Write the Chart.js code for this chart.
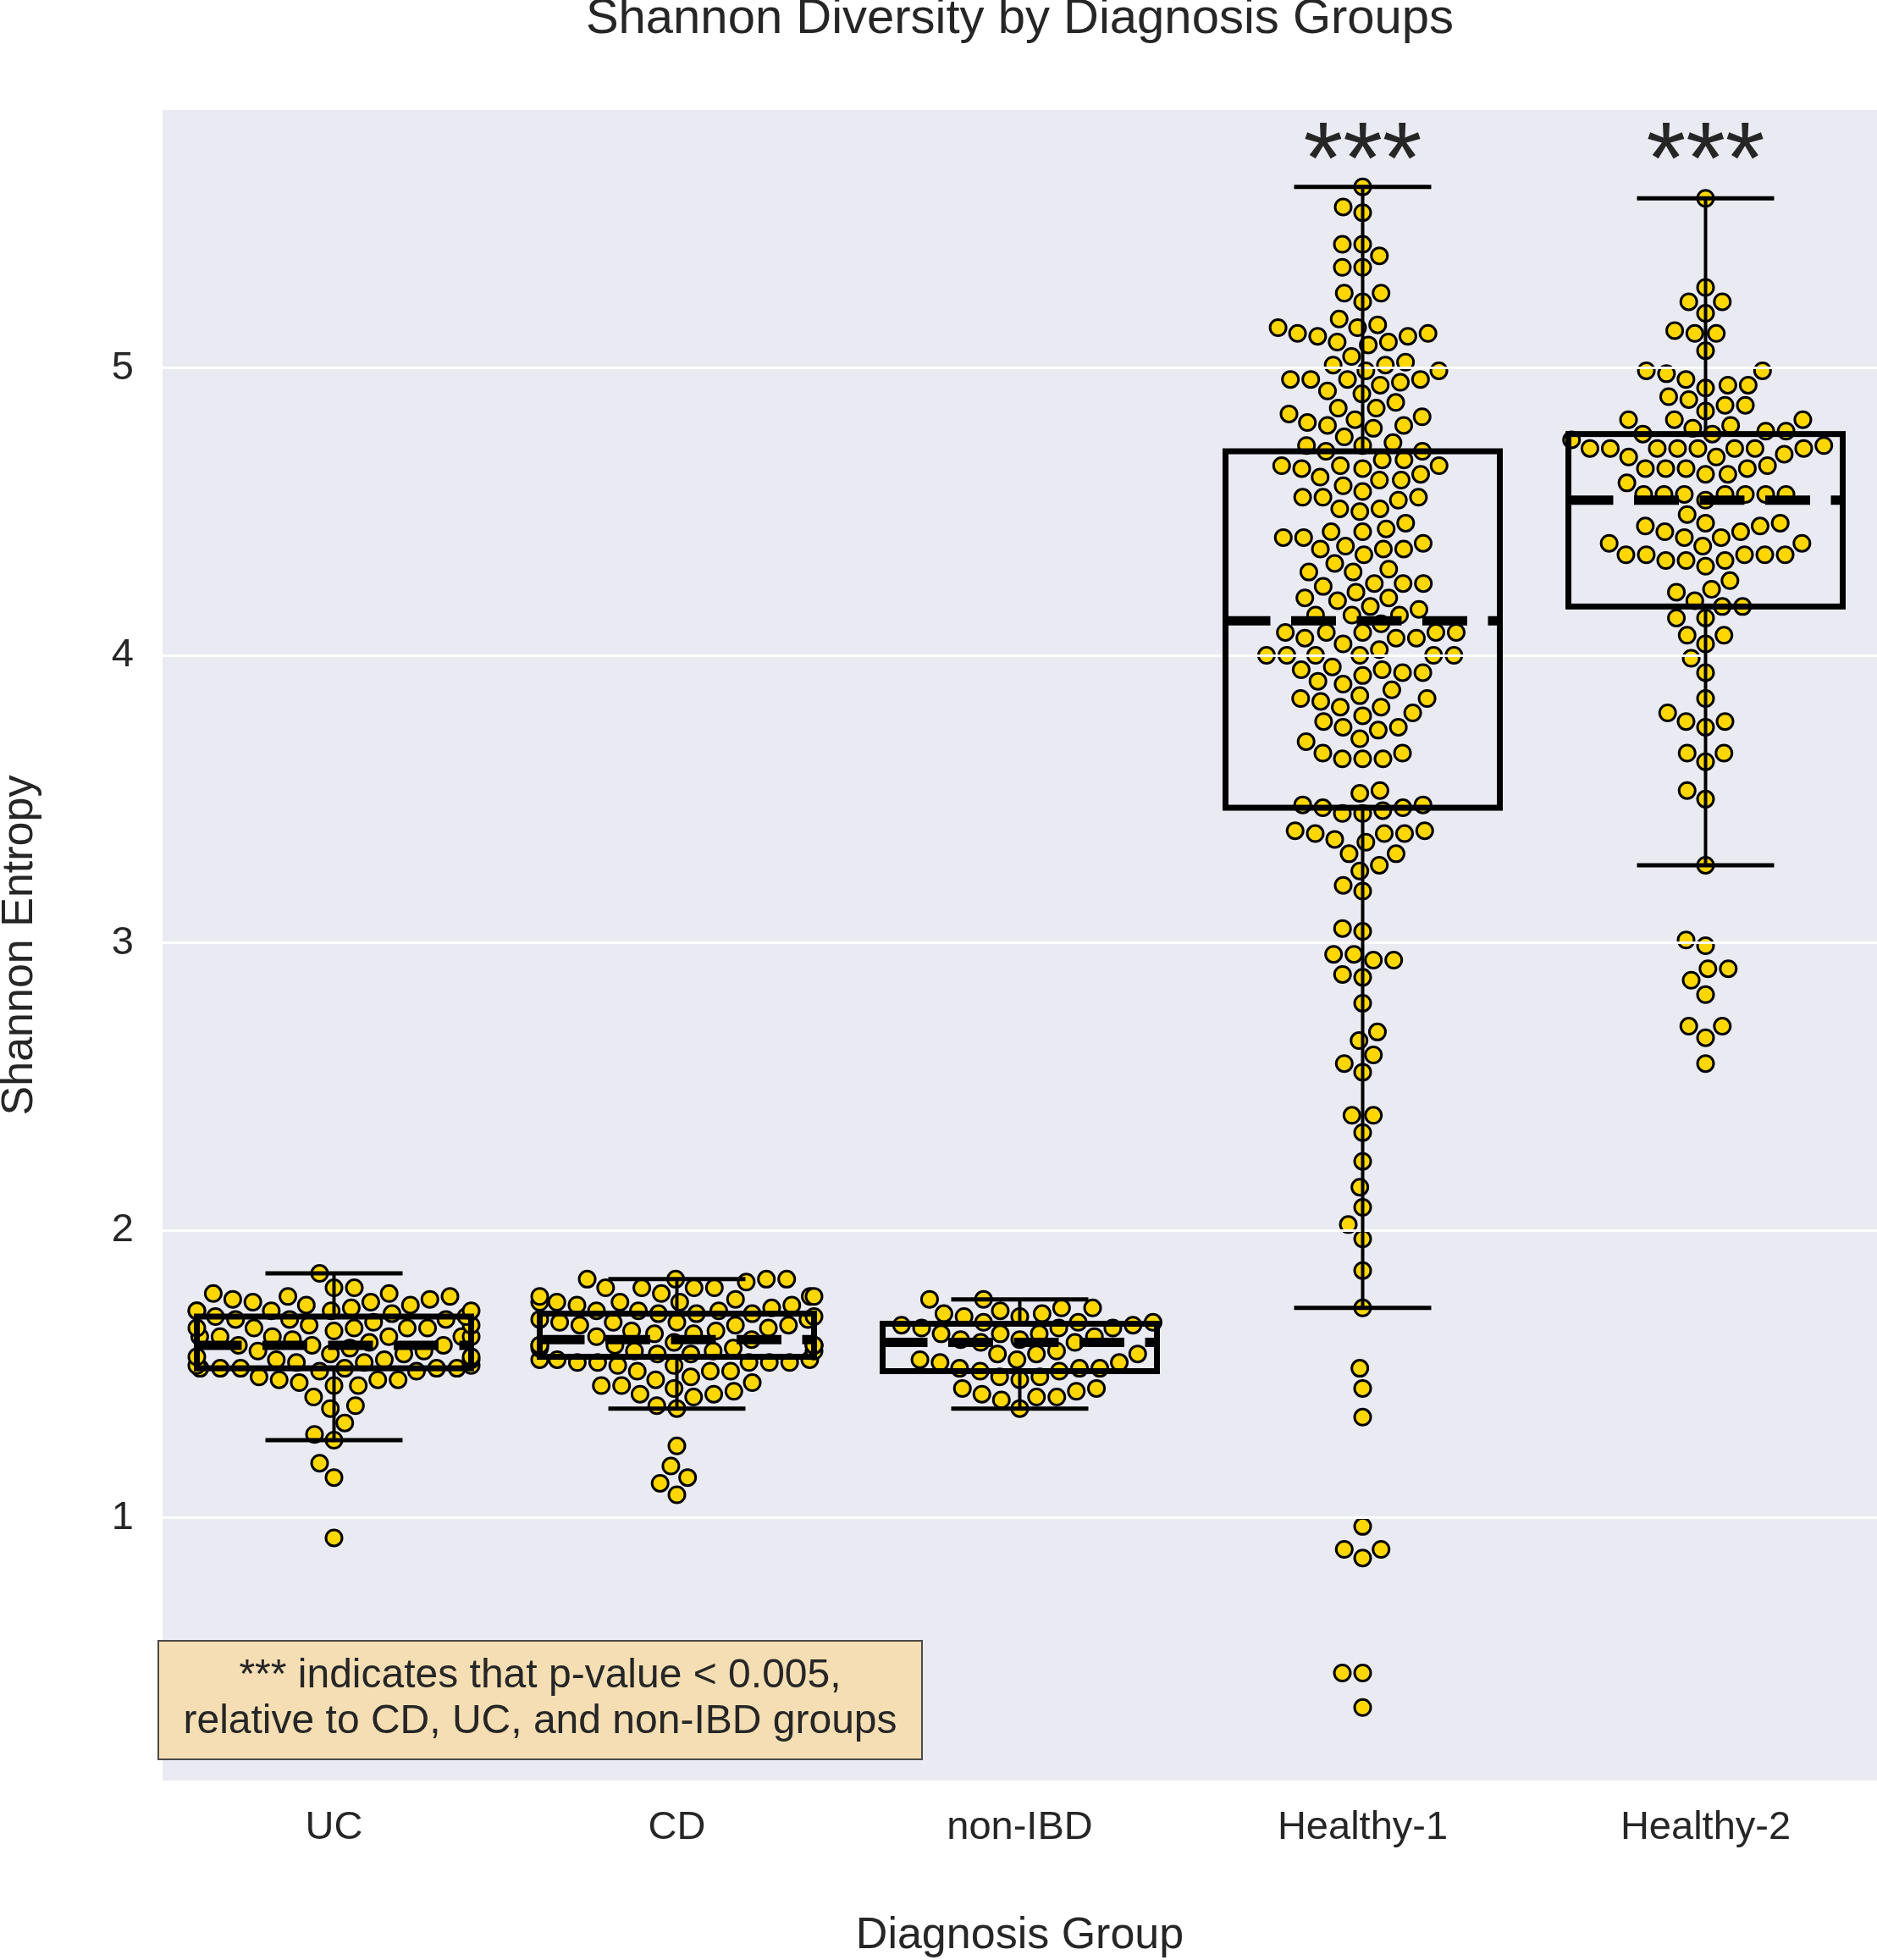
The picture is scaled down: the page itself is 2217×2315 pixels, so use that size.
<!DOCTYPE html>
<html>
<head>
<meta charset="utf-8">
<title>Shannon Diversity by Diagnosis Groups</title>
<script src="https://cdn.jsdelivr.net/npm/chart.js@4.4.1/dist/chart.umd.min.js"></script>
<style>
  html, body { margin: 0; padding: 0; background: #fff; overflow: hidden; }
  #chart { display: block; }
</style>
</head>
<body>
<canvas id="chart" width="2217" height="2315"></canvas>
<script>
// categories / ticks
const groups = ['UC', 'CD', 'non-IBD', 'Healthy-1', 'Healthy-2'];
const yTicks = [1, 2, 3, 4, 5];
const significant = ['Healthy-1', 'Healthy-2'];
const noteLines = ['*** indicates that p-value < 0.005,', 'relative to CD, UC, and non-IBD groups'];

// box stats
const whiskerLow  = [1.27, 1.38, 1.38, 1.73, 3.27];
const q1          = [1.52, 1.56, 1.51, 3.47, 4.17];
const median      = [1.60, 1.62, 1.61, 4.12, 4.54];
const q3          = [1.70, 1.71, 1.675, 4.71, 4.77];
const whiskerHigh = [1.85, 1.83, 1.76, 5.63, 5.59];

// per-sample Shannon entropy
const ucValues = [1.85, 1.80, 1.80, 1.78, 1.78, 1.77, 1.77, 1.76, 1.76, 1.75, 1.75, 1.74, 1.74, 1.73, 1.72, 1.72, 1.72, 1.72, 1.72, 1.71,
  1.70, 1.70, 1.69, 1.69, 1.69, 1.68, 1.67, 1.67, 1.66, 1.66, 1.66, 1.66, 1.66, 1.65, 1.63, 1.63, 1.63, 1.63, 1.63, 1.63,
  1.62, 1.61, 1.60, 1.60, 1.60, 1.59, 1.58, 1.58, 1.57, 1.57, 1.56, 1.56, 1.55, 1.55, 1.55, 1.54, 1.54, 1.53, 1.53, 1.52,
  1.52, 1.52, 1.52, 1.52, 1.52, 1.51, 1.51, 1.49, 1.48, 1.48, 1.48, 1.47, 1.46, 1.46, 1.42, 1.39, 1.38, 1.33, 1.29, 1.27,
  1.19, 1.14, 0.93];
const cdValues = [1.83, 1.83, 1.83, 1.83, 1.82, 1.80, 1.80, 1.80, 1.80, 1.78, 1.77, 1.77, 1.77, 1.76, 1.75, 1.75, 1.75, 1.75, 1.74, 1.74,
  1.73, 1.72, 1.72, 1.72, 1.71, 1.71, 1.71, 1.70, 1.69, 1.69, 1.68, 1.68, 1.68, 1.67, 1.67, 1.67, 1.66, 1.65, 1.65, 1.64,
  1.64, 1.63, 1.62, 1.61, 1.60, 1.60, 1.60, 1.60, 1.60, 1.60, 1.59, 1.59, 1.58, 1.58, 1.58, 1.57, 1.57, 1.55, 1.55, 1.55,
  1.54, 1.54, 1.54, 1.54, 1.54, 1.53, 1.53, 1.51, 1.51, 1.51, 1.49, 1.48, 1.47, 1.46, 1.46, 1.45, 1.44, 1.43, 1.43, 1.42,
  1.39, 1.38, 1.25, 1.18, 1.14, 1.12, 1.08];
const nonIbdValues = [1.76, 1.76, 1.73, 1.73, 1.72, 1.71, 1.71, 1.70, 1.70, 1.68, 1.68, 1.68, 1.67, 1.67, 1.66, 1.66, 1.66, 1.64, 1.64, 1.64,
  1.63, 1.62, 1.62, 1.61, 1.61, 1.58, 1.57, 1.57, 1.57, 1.55, 1.55, 1.54, 1.54, 1.52, 1.52, 1.52, 1.51, 1.51, 1.49, 1.49,
  1.48, 1.45, 1.45, 1.44, 1.43, 1.42, 1.42, 1.41, 1.38];
const healthy1Values = [5.63, 5.56, 5.54, 5.43, 5.43, 5.39, 5.35, 5.35, 5.26, 5.26, 5.23, 5.17, 5.15, 5.14, 5.14, 5.12, 5.12, 5.11, 5.11, 5.09,
  5.09, 5.08, 5.04, 5.02, 5.01, 5.01, 4.99, 4.99, 4.96, 4.96, 4.96, 4.96, 4.95, 4.94, 4.92, 4.91, 4.88, 4.86, 4.86, 4.84,
  4.83, 4.82, 4.81, 4.80, 4.80, 4.79, 4.76, 4.74, 4.73, 4.73, 4.71, 4.71, 4.68, 4.68, 4.66, 4.66, 4.66, 4.65, 4.65, 4.63,
  4.62, 4.61, 4.61, 4.59, 4.57, 4.55, 4.55, 4.55, 4.54, 4.51, 4.51, 4.50, 4.46, 4.44, 4.43, 4.43, 4.41, 4.41, 4.39, 4.38,
  4.37, 4.37, 4.37, 4.35, 4.32, 4.30, 4.29, 4.29, 4.25, 4.25, 4.25, 4.24, 4.22, 4.20, 4.20, 4.19, 4.17, 4.16, 4.14, 4.14,
  4.14, 4.11, 4.08, 4.08, 4.08, 4.08, 4.08, 4.06, 4.06, 4.06, 4.04, 4.02, 4.00, 4.00, 4.00, 4.00, 4.00, 4.00, 3.96, 3.95,
  3.95, 3.94, 3.94, 3.93, 3.91, 3.90, 3.88, 3.86, 3.85, 3.85, 3.84, 3.82, 3.82, 3.80, 3.79, 3.77, 3.75, 3.75, 3.74, 3.71,
  3.70, 3.66, 3.66, 3.64, 3.64, 3.64, 3.53, 3.52, 3.48, 3.48, 3.47, 3.47, 3.46, 3.45, 3.45, 3.39, 3.39, 3.38, 3.38, 3.38,
  3.36, 3.35, 3.31, 3.31, 3.27, 3.25, 3.20, 3.18, 3.05, 3.04, 2.96, 2.96, 2.94, 2.94, 2.89, 2.88, 2.79, 2.69, 2.66, 2.61,
  2.58, 2.55, 2.40, 2.40, 2.34, 2.24, 2.15, 2.08, 2.02, 1.97, 1.86, 1.73, 1.52, 1.45, 1.35, 0.97, 0.89, 0.89, 0.86, 0.46,
  0.46, 0.34];
const healthy2Values = [5.59, 5.28, 5.23, 5.23, 5.19, 5.13, 5.12, 5.12, 5.06, 4.99, 4.99, 4.98, 4.96, 4.94, 4.94, 4.93, 4.90, 4.89, 4.87, 4.87,
  4.85, 4.82, 4.82, 4.82, 4.80, 4.79, 4.78, 4.78, 4.77, 4.77, 4.75, 4.73, 4.72, 4.72, 4.72, 4.72, 4.72, 4.72, 4.72, 4.72,
  4.70, 4.69, 4.69, 4.66, 4.65, 4.65, 4.65, 4.65, 4.63, 4.63, 4.60, 4.56, 4.56, 4.56, 4.56, 4.56, 4.56, 4.56, 4.54, 4.49,
  4.46, 4.46, 4.45, 4.45, 4.43, 4.43, 4.41, 4.41, 4.39, 4.39, 4.38, 4.35, 4.35, 4.35, 4.35, 4.35, 4.33, 4.33, 4.33, 4.31,
  4.26, 4.23, 4.22, 4.19, 4.17, 4.17, 4.13, 4.13, 4.07, 4.07, 4.04, 3.99, 3.94, 3.85, 3.80, 3.77, 3.77, 3.75, 3.66, 3.66,
  3.63, 3.53, 3.50, 3.27, 3.01, 2.99, 2.91, 2.91, 2.87, 2.82, 2.71, 2.71, 2.67, 2.58];

const groupValues = [ucValues, cdValues, nonIbdValues, healthy1Values, healthy2Values];

const FONT = "'Liberation Sans', Arial, sans-serif";
const TEXT = '#262626';
const DOT = 24; // swarm spacing in px
Chart.defaults.font.family = FONT;
Chart.defaults.color = TEXT;

// seaborn-ish swarm: sort by value, put each dot at the nearest free spot to the centre line
function beeswarm(values, index, chart) {
    const {x, y} = chart.scales;
    const cx = x.getPixelForValue(index);
    const gutter = x.getPixelForValue(index + 0.4) - cx;
    const pts = values.map(v => ({v: v, py: y.getPixelForValue(v), dx: 0})).sort((a, b) => a.v - b.v);
    const placed = [];
    for (const p of pts) {
        const near = placed.filter(q => Math.abs(q.py - p.py) < DOT);
        const cands = [0];
        near.forEach(q => {
            const off = Math.sqrt(DOT * DOT - (q.py - p.py) ** 2);
            cands.push(q.dx - off, q.dx + off);
        });
        cands.sort((a, b) => Math.abs(a) - Math.abs(b));
        const ok = cands.find(c => near.every(q => (q.dx - c) ** 2 + (q.py - p.py) ** 2 >= DOT * DOT - 0.01));
        p.dx = ok === undefined ? 0 : ok;
        placed.push(p);
    }
    return placed.map(p => ({
        x: x.getValueForPixel(cx + Math.max(-gutter, Math.min(gutter, p.dx))),
        y: p.v
    }));
}

const plotBg = {
    id: 'plotBg',
    beforeDraw(chart) {
        const {ctx, chartArea: a} = chart;
        ctx.save();
        ctx.fillStyle = '#EAEAF2';
        ctx.fillRect(a.left, a.top, a.right - a.left, a.bottom - a.top);
        ctx.restore();
    }
};

const boxes = {
    id: 'boxes',
    afterDraw(chart) {
        const {ctx, chartArea: a, scales: {x, y}} = chart;
        ctx.save();
        ctx.strokeStyle = '#000';
        ctx.lineCap = 'butt';
        const seg = (x1, y1, x2, y2) => { ctx.beginPath(); ctx.moveTo(x1, y1); ctx.lineTo(x2, y2); ctx.stroke(); };
        groups.forEach((g, i) => {
            const cx = x.getPixelForValue(i);
            const half = x.getPixelForValue(i + 0.4) - cx;
            const top = y.getPixelForValue(q3[i]);
            const bot = y.getPixelForValue(q1[i]);
            const hi = y.getPixelForValue(whiskerHigh[i]);
            const lo = y.getPixelForValue(whiskerLow[i]);
            const med = y.getPixelForValue(median[i]);
            ctx.setLineDash([]);
            ctx.lineWidth = 4;
            seg(cx, top, cx, hi);
            seg(cx, bot, cx, lo);
            ctx.lineWidth = 5;
            seg(cx - half / 2, hi, cx + half / 2, hi);
            seg(cx - half / 2, lo, cx + half / 2, lo);
            ctx.lineWidth = 7;
            ctx.strokeRect(cx - half, top, half * 2, bot - top);
            ctx.lineWidth = 11;
            ctx.setLineDash([53, 24.5]);
            seg(cx - half, med, cx + half, med);
        });
        ctx.setLineDash([]);

        // significance stars
        ctx.fillStyle = TEXT;
        ctx.font = '120px ' + FONT;
        ctx.textAlign = 'center';
        ctx.textBaseline = 'alphabetic';
        const m = ctx.measureText('***');
        const starY = a.top + 36;
        significant.forEach(g => {
            const cx = x.getPixelForValue(groups.indexOf(g));
            ctx.fillText('***', cx, starY + (m.actualBoundingBoxAscent - m.actualBoundingBoxDescent) / 2);
        });

        // note box
        const bx = a.left - 5, bw = 902, bh = 140, by = a.bottom - 25 - bh;
        ctx.fillStyle = '#F5DEB3';
        ctx.fillRect(bx, by, bw, bh);
        ctx.lineWidth = 2;
        ctx.strokeStyle = '#4a4a4a';
        ctx.strokeRect(bx, by, bw, bh);
        ctx.fillStyle = TEXT;
        ctx.font = '48px ' + FONT;
        ctx.textBaseline = 'middle';
        ctx.fillText(noteLines[0], bx + bw / 2, by + 42);
        ctx.fillText(noteLines[1], bx + bw / 2, by + 96);
        ctx.restore();
    }
};

const chart = new Chart(document.getElementById('chart'), {
    type: 'scatter',
    data: {
        datasets: groupValues.map((vals, i) => ({
            label: groups[i],
            data: vals.map(v => ({x: i, y: v})),
            pointRadius: 9.5,
            pointHoverRadius: 9.5,
            borderWidth: 3,
            backgroundColor: '#FFD700',
            borderColor: '#000'
        }))
    },
    options: {
        responsive: false,
        animation: false,
        devicePixelRatio: 1,
        layout: { padding: 0, autoPadding: false },
        plugins: {
            legend: { display: false },
            tooltip: { enabled: false },
            title: {
                display: true,
                fullSize: false,
                text: 'Shannon Diversity by Diagnosis Groups',
                color: TEXT,
                font: { size: 58, weight: 'normal', lineHeight: 0.8 },
                padding: { top: 0, bottom: 83.6 }
            }
        },
        scales: {
            x: {
                type: 'linear',
                min: -0.5,
                max: 4.5,
                afterBuildTicks: s => { s.ticks = groups.map((g, i) => ({value: i})); },
                afterFit: s => { s.height = 212; s.paddingLeft = 0; s.paddingRight = 0; },
                grid: { display: false, drawTicks: false },
                border: { display: false },
                ticks: {
                    callback: v => groups[v],
                    font: { size: 47 },
                    color: TEXT,
                    padding: 28,
                    maxRotation: 0,
                    autoSkip: false
                },
                title: {
                    display: true,
                    text: 'Diagnosis Group',
                    color: TEXT,
                    font: { size: 52, lineHeight: 1 },
                    padding: { top: 0, bottom: 2 }
                }
            },
            y: {
                min: 0.086,
                max: 5.897,
                afterBuildTicks: s => { s.ticks = yTicks.map(v => ({value: v})); },
                afterFit: s => { s.width = 192; s.paddingTop = 0; s.paddingBottom = 0; },
                grid: { color: '#ffffff', lineWidth: 3, drawTicks: false, z: 1 },
                border: { display: false },
                ticks: {
                    callback: v => String(v),
                    font: { size: 47 },
                    color: TEXT,
                    padding: 34
                },
                title: {
                    display: true,
                    text: 'Shannon Entropy',
                    color: TEXT,
                    font: { size: 52, lineHeight: 0.9 },
                    padding: { top: 0, bottom: 0 }
                }
            }
        }
    },
    plugins: [plotBg, boxes]
});

// lay the dots out once the scales exist
chart.data.datasets.forEach((ds, i) => { ds.data = beeswarm(groupValues[i], i, chart); });
chart.update();
</script>
</body>
</html>
